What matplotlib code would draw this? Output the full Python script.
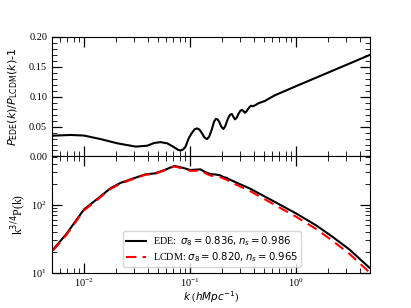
import matplotlib
matplotlib.use("Agg")
import matplotlib.pyplot as plt
from matplotlib.ticker import MultipleLocator, LogLocator, NullFormatter

plt.rcParams['font.family'] = ['Liberation Serif', 'DejaVu Serif']
plt.rcParams['mathtext.fontset'] = 'dejavusans'

# Top panel: P_EDE/P_LCDM - 1
k_ratio = [0.00512, 0.00755, 0.0100, 0.01445, 0.0207, 0.0308, 0.0396, 0.0460, 0.0528,
           0.0611, 0.0670, 0.0731, 0.0775, 0.0815, 0.0860, 0.0908, 0.0979, 0.105,
           0.111, 0.117, 0.123, 0.130, 0.137, 0.145, 0.152, 0.161, 0.169, 0.176,
           0.183, 0.189, 0.198, 0.207, 0.215, 0.223, 0.231, 0.240, 0.249, 0.258,
           0.267, 0.277, 0.287, 0.298, 0.309, 0.320, 0.332, 0.344, 0.356, 0.367,
           0.378, 0.392, 0.406, 0.425, 0.443, 0.512, 0.627, 1.016, 5.0]
ratio = [0.0348, 0.036, 0.035, 0.029, 0.022, 0.0165, 0.018, 0.0225, 0.024,
         0.022, 0.018, 0.014, 0.011, 0.010, 0.0115, 0.016, 0.031, 0.040,
         0.0455, 0.047, 0.045, 0.039, 0.032, 0.029, 0.033, 0.045, 0.058, 0.063,
         0.062, 0.058, 0.050, 0.046, 0.050, 0.058, 0.065, 0.070, 0.071, 0.066,
         0.062, 0.065, 0.071, 0.076, 0.078, 0.076, 0.073, 0.076, 0.080, 0.083,
         0.085, 0.084, 0.085, 0.087, 0.089, 0.093, 0.102, 0.118, 0.170]

# Bottom panel: k^{3/4} P(k)
k_pk = [0.00512, 0.00678, 0.0100, 0.0136, 0.0179, 0.0222, 0.0276, 0.0380, 0.0469,
        0.0579, 0.0715, 0.0845, 0.101, 0.126, 0.140, 0.156, 0.173, 0.193, 0.207,
        0.223, 0.240, 0.370, 0.570, 1.016, 1.56, 2.22, 3.21, 4.95]
pk_ede = [22.0, 36.6, 85, 124, 175, 209, 235, 279, 288,
          324, 370, 350, 323, 330, 300, 282, 278, 270, 255,
          247, 232, 172, 120, 73.8, 49.6, 33.8, 22.0, 11.9]
pk_lcdm = [21.3, 35.3, 82.1, 120.4, 170.4, 204.3, 230.8, 274.5, 282.4,
           319, 364.5, 340, 313.6, 315.8, 289.9, 268.6, 261, 254.7, 242.9,
           231.9, 216.8, 158.5, 109.1, 66.0, 43.9, 29.6, 19.0, 10.2]

lab_ede = r"EDE:  $\sigma_8 = 0.836, n_s = 0.986$"
lab_lcdm = r"LCDM: $\sigma_8 = 0.820, n_s = 0.965$"

fig = plt.figure(figsize=(4.11, 3.08), dpi=100)
ax1 = fig.add_axes([0.1265, 0.492, 0.7735, 0.388])
ax2 = fig.add_axes([0.1265, 0.114, 0.7735, 0.378], sharex=ax1)

ax1.plot(k_ratio, ratio, color='black', lw=1.5, solid_joinstyle='round')
ax1.set_xscale('log')
ax1.set_xlim(5e-3, 5)
ax1.set_ylim(0, 0.2)
ax1.yaxis.set_major_locator(MultipleLocator(0.05))
ax1.yaxis.set_minor_locator(MultipleLocator(0.01))
ax1.set_ylabel(r"$P_{\rm EDE}(k)/P_{\rm LCDM}(k)$-1", fontsize=8, family='DejaVu Sans')
ax1.yaxis.set_label_coords(-0.10, 0.5)
plt.setp(ax1.get_xticklabels(), visible=False)

ax2.plot(k_pk, pk_ede, color='black', lw=1.5, label=lab_ede, solid_joinstyle='round')
ax2.plot(k_pk, pk_lcdm, color='red', lw=1.5, ls=(0, (5, 3)), label=lab_lcdm)
ax2.set_xscale('log')
ax2.set_yscale('log')
ax2.set_xlim(5e-3, 5)
ax2.set_ylim(10, 510)
ax2.set_ylabel(r"k$^{3/4}$P(k)", fontsize=8.5)
ax2.yaxis.set_label_coords(-0.072, 0.5)
ax2.set_xlabel(r"$k$ ($hMpc^{-1}$)", fontsize=7.5)
ax2.xaxis.set_label_coords(0.5, -0.145)
leg = ax2.legend(loc='lower left', bbox_to_anchor=(0.222, 0.049), borderaxespad=0,
                 fontsize=7.3, frameon=True, handlelength=2.0, labelspacing=0.2,
                 borderpad=0.3, handletextpad=0.7)
leg.get_frame().set_edgecolor('#cccccc')
for t in leg.get_texts():
    t.set_family('Liberation Serif')

for ax in (ax1, ax2):
    ax.tick_params(which='both', direction='in', top=True, right=True, labelsize=7.5)
    ax.tick_params(which='major', length=7, width=0.9)
    ax.tick_params(which='minor', length=3.5, width=0.6)
    ax.xaxis.set_minor_locator(LogLocator(base=10, subs=range(2, 10), numticks=20))
    ax.xaxis.set_minor_formatter(NullFormatter())
ax2.yaxis.set_minor_locator(LogLocator(base=10, subs=range(2, 10), numticks=20))
ax2.yaxis.set_minor_formatter(NullFormatter())
ax2.tick_params(axis='x', which='major', pad=3)

fig.savefig("out.png", dpi=100)
